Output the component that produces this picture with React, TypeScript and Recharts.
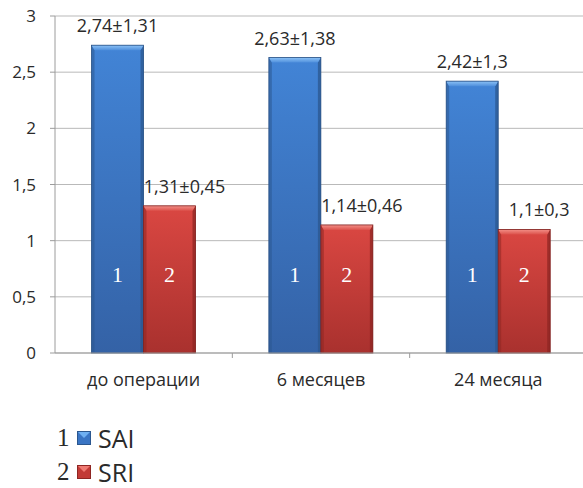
import React from "react"
import { Bar, BarChart, CartesianGrid, LabelList, Legend, XAxis, YAxis } from "recharts"

const categories = ["до операции", "6 месяцев", "24 месяца"]
const saiValues = [2.74, 2.63, 2.42]
const sriValues = [1.31, 1.14, 1.1]
const saiLabels = ["2,74±1,31", "2,63±1,38", "2,42±1,3"]
const sriLabels = ["1,31±0,45", "1,14±0,46", "1,1±0,3"]
const seriesNumbers = ["1", "2"]
const seriesNames = ["SAI", "SRI"]
const yTicks = [0, 0.5, 1, 1.5, 2, 2.5, 3]

const data = categories.map((name, i) => ({
  name,
  sai: saiValues[i],
  sri: sriValues[i],
  saiLabel: saiLabels[i],
  sriLabel: sriLabels[i],
}))

const CHART_W = 592
const CHART_H = 488
const MARGIN = { top: 16, right: 5, left: 0, bottom: 0 }
const YAXIS_W = 55
const BAND = (CHART_W - MARGIN.left - MARGIN.right - YAXIS_W) / categories.length

const SANS = "'Open Sans', sans-serif"
const SERIF = "'Liberation Serif', 'DejaVu Serif', serif"
const AXIS = "#9c9c9c"
const TEXT = "#2a2a2a"

const tones = {
  blue: { main: "url(#blueBody)", edge: "#2b578f", top: "url(#blueTop)", line: "#2a5183" },
  red: { main: "url(#redBody)", edge: "#8e2623", top: "url(#redTop)", line: "#7e2220" },
}

const BevelBar = (props: any) => {
  const { x, y, width: w, height: h, tone } = props
  if (!h || h <= 0) return null
  const t = tones[tone as "blue" | "red"]
  const e = 3
  const b = 5
  return (
    <g>
      <rect x={x} y={y} width={w} height={h} fill={t.main} />
      <polygon points={`${x},${y} ${x + e},${y + b} ${x + e},${y + h} ${x},${y + h}`} fill={t.edge} opacity={0.55} />
      <polygon points={`${x + w},${y} ${x + w - e},${y + b} ${x + w - e},${y + h} ${x + w},${y + h}`} fill={t.edge} opacity={0.75} />
      <polygon points={`${x},${y} ${x + w},${y} ${x + w - e},${y + b} ${x + e},${y + b}`} fill={t.top} />
      <rect x={x} y={y} width={w} height={h} fill="none" stroke={t.line} strokeWidth={0.8} />
    </g>
  )
}

const topLabel = (shift: number) => (props: any) => {
  const { x, y, width, value } = props
  return (
    <text x={x + width / 2 + shift} y={y - 13} textAnchor="middle" fontFamily={SANS} fontSize={18} fill={TEXT}>
      {value}
    </text>
  )
}

const innerNumber = (num: string) => (props: any) => {
  const { x, y, width, height } = props
  return (
    <text x={x + width / 2} y={y + height - 71} textAnchor="middle" fontFamily={SERIF} fontSize={22} fill="#ffffff">
      {num}
    </text>
  )
}

const CategoryTick = (props: any) => {
  const { x, y, payload } = props
  return (
    <g>
      <line x1={x + BAND / 2} y1={y} x2={x + BAND / 2} y2={y + 5} stroke={AXIS} />
      <text x={x} y={y + 33} textAnchor="middle" fontFamily={SANS} fontSize={18} fill={TEXT}>
        {payload.value}
      </text>
    </g>
  )
}

const LegendIcon = ({ tone }: { tone: "blue" | "red" }) => {
  const c = tone === "blue"
    ? { body: "#3a75c4", top: "#6fb0f2", edge: "#2b578f" }
    : { body: "#c23a36", top: "#ef7a73", edge: "#8e2623" }
  return (
    <svg width={14} height={14} style={{ display: "block" }}>
      <rect x={0} y={0} width={14} height={14} fill={c.body} />
      <polygon points="0,0 14,0 7,7" fill={c.top} />
      <rect x={0.5} y={0.5} width={13} height={13} fill="none" stroke={c.edge} strokeWidth={1} />
    </svg>
  )
}

const renderLegend = () => (
  <div style={{ position: "relative", width: 220, height: 95 }}>
    {seriesNames.map((name, i) => (
      <div
        key={name}
        style={{
          position: "absolute",
          left: 57,
          top: 30 + i * 34,
          height: 30,
          display: "flex",
          alignItems: "center",
        }}
      >
        <span style={{ fontFamily: SERIF, fontSize: 25, color: TEXT, width: 12, lineHeight: "30px" }}>
          {seriesNumbers[i]}
        </span>
        <span style={{ marginLeft: 8 }}>
          <LegendIcon tone={i === 0 ? "blue" : "red"} />
        </span>
        <span style={{ fontFamily: SANS, fontSize: 25, color: TEXT, marginLeft: 7, lineHeight: "30px" }}>
          {name}
        </span>
      </div>
    ))}
  </div>
)

export default function App() {
  return (
    <div style={{ position: "absolute", left: 0, top: 0, width: 583, height: 488, overflow: "hidden", background: "#fff" }}>
      <BarChart
        width={CHART_W}
        height={CHART_H}
        data={data}
        margin={MARGIN}
        barCategoryGap="20.6%"
        barGap={0}
      >
        <defs>
          <linearGradient id="blueBody" x1="0" y1="0" x2="0" y2="1">
            <stop offset="0%" stopColor="#4284d6" />
            <stop offset="100%" stopColor="#3462a6" />
          </linearGradient>
          <linearGradient id="blueTop" x1="0" y1="0" x2="0" y2="1">
            <stop offset="0%" stopColor="#8cc2f6" />
            <stop offset="100%" stopColor="#4f8fdc" />
          </linearGradient>
          <linearGradient id="redBody" x1="0" y1="0" x2="0" y2="1">
            <stop offset="0%" stopColor="#da4742" />
            <stop offset="100%" stopColor="#a9312e" />
          </linearGradient>
          <linearGradient id="redTop" x1="0" y1="0" x2="0" y2="1">
            <stop offset="0%" stopColor="#f39088" />
            <stop offset="100%" stopColor="#dc514b" />
          </linearGradient>
        </defs>
        <CartesianGrid vertical={false} stroke="#b9b9b9" />
        <XAxis
          dataKey="name"
          height={40}
          interval={0}
          tickLine={false}
          tickSize={0}
          tickMargin={0}
          axisLine={{ stroke: AXIS }}
          tick={<CategoryTick />}
        />
        <YAxis
          width={YAXIS_W}
          domain={[0, 3]}
          ticks={yTicks}
          interval={0}
          tickSize={5}
          tickMargin={14}
          axisLine={{ stroke: AXIS }}
          tickLine={{ stroke: AXIS }}
          tickFormatter={(v: number) => String(v).replace(".", ",")}
          tick={{ fontFamily: SANS, fontSize: 17, fill: TEXT }}
        />
        <Legend
          layout="horizontal"
          verticalAlign="bottom"
          align="left"
          content={renderLegend}
          wrapperStyle={{ left: 0, bottom: 0, width: 220, height: 95 }}
        />
        <Bar dataKey="sai" name="SAI" fill="#3a75c4" isAnimationActive={false} shape={(p: any) => <BevelBar {...p} tone="blue" />}>
          <LabelList dataKey="saiLabel" content={topLabel(0)} />
          <LabelList dataKey="sai" content={innerNumber(seriesNumbers[0])} />
        </Bar>
        <Bar dataKey="sri" name="SRI" fill="#c23a36" isAnimationActive={false} shape={(p: any) => <BevelBar {...p} tone="red" />}>
          <LabelList dataKey="sriLabel" content={topLabel(15)} />
          <LabelList dataKey="sri" content={innerNumber(seriesNumbers[1])} />
        </Bar>
      </BarChart>
    </div>
  )
}
